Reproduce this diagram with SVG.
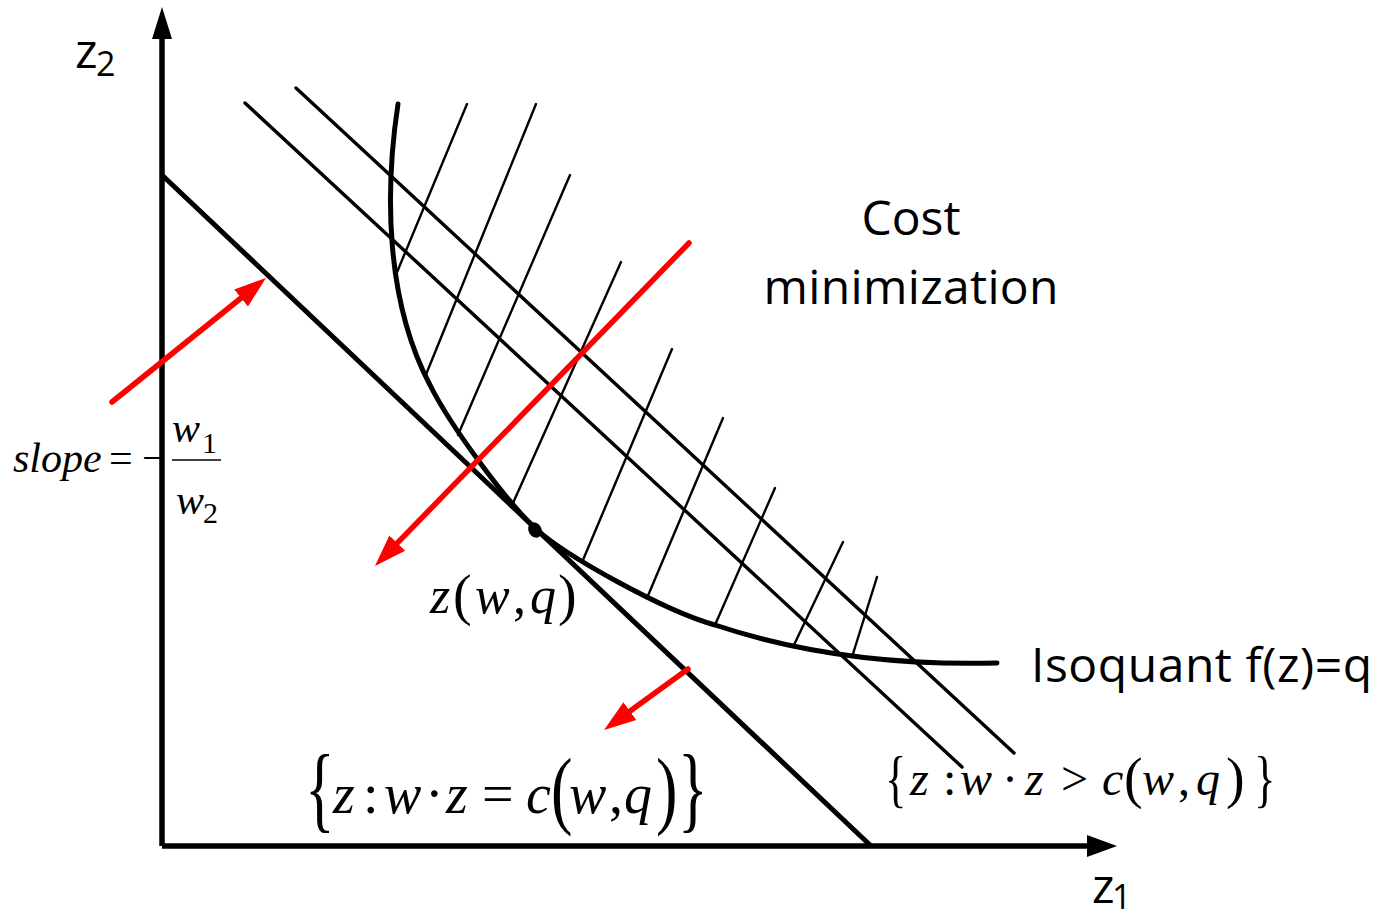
<svg xmlns="http://www.w3.org/2000/svg" width="1385" height="917" viewBox="0 0 1385 917">
<style>
.sans{font-family:"Open Sans","Liberation Sans",sans-serif;fill:#000}
.serif{font-family:"Liberation Serif","Times New Roman",serif;fill:#000}
.it{font-style:italic}
.ax{stroke:#000;stroke-width:5.5;fill:none}
.thick{stroke:#000;stroke-width:5;fill:none;stroke-linecap:round}
.mid{stroke:#000;stroke-width:3.4;fill:none;stroke-linecap:round}
.hatch{stroke:#000;stroke-width:2.4;fill:none;stroke-linecap:round}
.red{stroke:#ff0000;stroke-width:5.5;fill:none;stroke-linecap:round}
</style>
<defs>
<marker id="ah" markerUnits="userSpaceOnUse" markerWidth="32" markerHeight="24" refX="12" refY="12" orient="auto" viewBox="0 0 32 24"><path d="M0,1 L32,12 L0,23 z" fill="#ff0000"/></marker>
</defs>
<rect width="1385" height="917" fill="#fff"/>
<g id="axes">
<path class="ax" d="M162,846 L162,36 M162,846 L1090,846"/>
<polygon points="162,7 152,39 172,39" fill="#000"/>
<polygon points="1117,846 1087,835 1087,857" fill="#000"/>
</g>
<g id="isocost-lines">
<path class="thick" d="M163,176 L870,845"/>
<path class="mid" d="M245,103 L962,767"/>
<path class="mid" d="M296,88 L1014,753"/>
</g>
<g id="hatching">
<path class="hatch" d="M467,104 L395,277 M536,104 L425,377 M570,175 L458,435 M621,262 L513,503 M672,349 L583,560 M723,418 L647,598 M775,488 L715,625 M843,542 L793,647 M877,577 L852,657"/>
</g>
<g id="isoquant">
<path class="thick" stroke-width="4.6" d="M398,104 C385,190 385,300 430,385 C450,425 505,500 535,528 C565,556 665,611 715,625 C790,650 880,666 997,663"/>
<ellipse cx="535" cy="530" rx="6.5" ry="8" transform="rotate(-30 535 530)"/>
</g>
<g id="arrows">
<path class="red" d="M112,402 L250.4,290.5" marker-end="url(#ah)"/>
<path class="red" d="M689,243 L388.9,551.7" marker-end="url(#ah)"/>
<path class="red" d="M688,669 L620.2,718.2" marker-end="url(#ah)"/>
</g>
<g id="labels">
<text class="sans" x="75" y="68" font-size="48">z</text>
<text class="sans" x="96" y="76" font-size="34">2</text>
<text class="sans" x="1092" y="903" font-size="48">z</text>
<text class="sans" x="1112" y="909" font-size="34">1</text>
<text class="sans" x="911" y="235" font-size="48" text-anchor="middle">Cost</text>
<text class="sans" x="911" y="304" font-size="48" text-anchor="middle" textLength="295">minimization</text>
<text class="sans" x="1031" y="682" font-size="48" textLength="341">Isoquant f(z)=q</text>
</g>
<g id="slope-label">
<text class="serif it" x="13" y="472" font-size="42">slope</text>
<text class="serif" x="109" y="472" font-size="42">=</text>
<text class="serif" x="142" y="472" font-size="42">−</text>
<path d="M172,460 L221,460" stroke="#000" stroke-width="1.6"/>
<text class="serif it" x="172" y="442" font-size="42">w</text>
<text class="serif" x="202" y="453" font-size="30">1</text>
<text class="serif it" x="176" y="514" font-size="42">w</text>
<text class="serif" x="203" y="523" font-size="30">2</text>
</g>
<g id="point-label">
<text class="serif it" x="430" y="613" font-size="52">z</text>
<text class="serif" x="453" y="614" font-size="56">(</text>
<text class="serif it" x="475" y="613" font-size="52">w</text>
<text class="serif" x="513" y="613" font-size="52">,</text>
<text class="serif it" x="530" y="613" font-size="52">q</text>
<text class="serif" x="558" y="614" font-size="56">)</text>
</g>
<g id="set-equal">
<text class="serif" transform="translate(305,820) scale(0.65,1)" font-size="95">{</text>
<text class="serif it" x="333" y="813" font-size="56">z</text>
<text class="serif" x="363" y="813" font-size="56">:</text>
<text class="serif it" x="384" y="813" font-size="56">w</text>
<text class="serif" x="425" y="813" font-size="56">·</text>
<text class="serif it" x="446" y="813" font-size="56">z</text>
<text class="serif" x="482" y="813" font-size="56">=</text>
<text class="serif it" x="526" y="813" font-size="56">c</text>
<text class="serif" transform="translate(551,818) scale(0.75,1)" font-size="86">(</text>
<text class="serif it" x="569" y="813" font-size="56">w</text>
<text class="serif" x="609" y="813" font-size="56">,</text>
<text class="serif it" x="624" y="813" font-size="56">q</text>
<text class="serif" transform="translate(656,818) scale(0.75,1)" font-size="86">)</text>
<text class="serif" transform="translate(678,820) scale(0.65,1)" font-size="95">}</text>
</g>
<g id="set-greater">
<text class="serif" transform="translate(885,800) scale(0.7,1)" font-size="64">{</text>
<text class="serif it" x="910" y="795" font-size="48">z</text>
<text class="serif" x="943" y="795" font-size="48">:</text>
<text class="serif it" x="960" y="795" font-size="48">w</text>
<text class="serif" x="1002" y="795" font-size="48">·</text>
<text class="serif it" x="1025" y="795" font-size="48">z</text>
<text class="serif" x="1061" y="795" font-size="48">&gt;</text>
<text class="serif it" x="1102" y="795" font-size="48">c</text>
<text class="serif" x="1124" y="797" font-size="56">(</text>
<text class="serif it" x="1142" y="795" font-size="48">w</text>
<text class="serif" x="1178" y="795" font-size="48">,</text>
<text class="serif it" x="1196" y="795" font-size="48">q</text>
<text class="serif" x="1226" y="797" font-size="56">)</text>
<text class="serif" transform="translate(1254,800) scale(0.7,1)" font-size="64">}</text>
</g>
</svg>
